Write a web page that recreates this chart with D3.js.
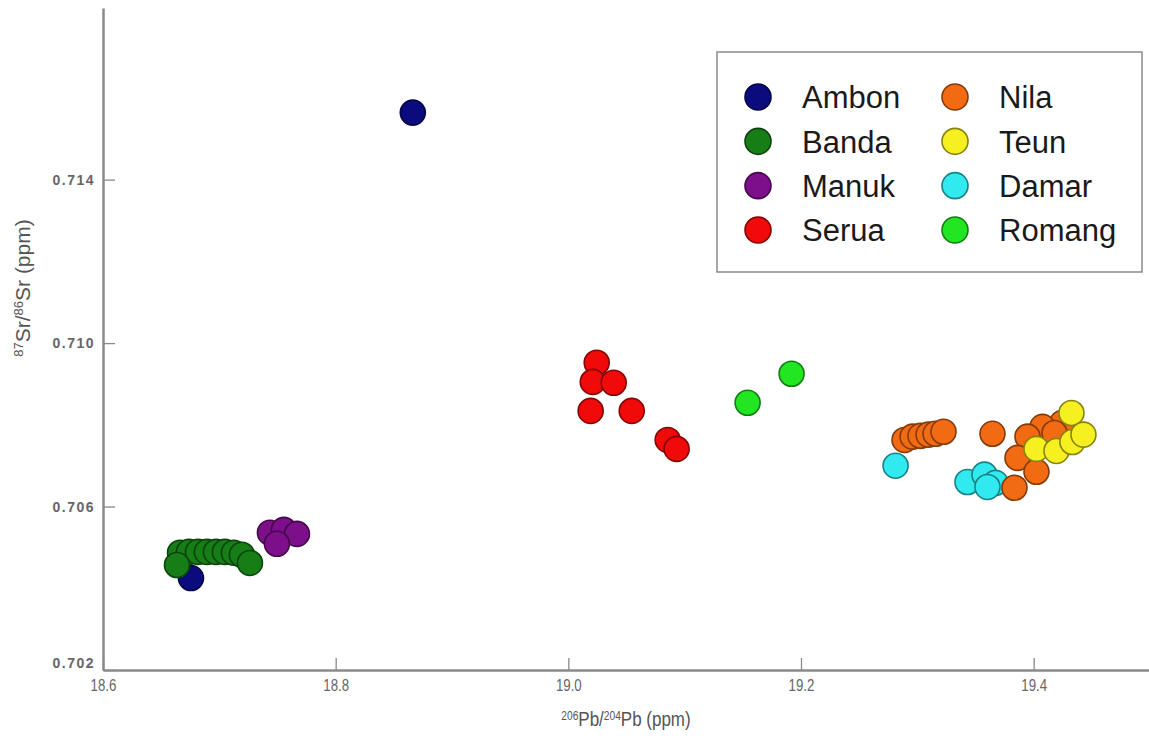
<!DOCTYPE html>
<html>
<head>
<meta charset="utf-8">
<script src="https://cdn.jsdelivr.net/npm/d3@7/dist/d3.min.js"></script>
<style>
  html, body { margin: 0; padding: 0; background: #fff; }
  svg { display: block; font-family: "Liberation Sans", Arial, sans-serif; }
</style>
</head>
<body>
<svg id="chart" width="1149" height="740"></svg>
<script>
/* 87Sr/86Sr vs 206Pb/204Pb scatter, one series per island */

const GROUPS = ["Ambon", "Banda", "Manuk", "Serua", "Nila", "Teun", "Damar", "Romang"];
const GROUP_COLORS = ["#0b0b7d", "#177d17", "#7d0f8a", "#f00a0a", "#f26b12", "#f7f020", "#30eaf0", "#22e622"];

const X_TICKS = [18.6, 18.8, 19.0, 19.2, 19.4];
const Y_TICKS = [0.702, 0.706, 0.710, 0.714];

// [206Pb/204Pb, 87Sr/86Sr]
const ambon = [[18.8663, 0.71564], [18.6756, 0.70425]];
const banda = [
  [18.6662, 0.70487], [18.6739, 0.70489], [18.6816, 0.70489], [18.6893, 0.70489],
  [18.6971, 0.70489], [18.7048, 0.70489], [18.7125, 0.70487], [18.7194, 0.70482],
  [18.7263, 0.70462], [18.6636, 0.70457]
];
const manuk = [[18.7435, 0.70536], [18.7555, 0.70543], [18.7667, 0.70533], [18.7495, 0.70509]];
const serua = [
  [19.0244, 0.70952], [19.0210, 0.70905], [19.0390, 0.70903], [19.0192, 0.70834],
  [19.0545, 0.70834], [19.0854, 0.70763], [19.0931, 0.70741]
];
const nila = [
  [19.2890, 0.70763], [19.2959, 0.70771], [19.3027, 0.70773], [19.3096, 0.70776],
  [19.3156, 0.70778], [19.3225, 0.70783], [19.3646, 0.70778],
  [19.4247, 0.70805], [19.4076, 0.70795], [19.4179, 0.70780], [19.3947, 0.70771],
  [19.3861, 0.70719], [19.4024, 0.70685], [19.3835, 0.70646]
];
const teun = [[19.4325, 0.70829], [19.4024, 0.70741], [19.4196, 0.70736], [19.4333, 0.70758], [19.4428, 0.70776]];
const damar = [[19.2813, 0.70700], [19.3431, 0.70660], [19.3577, 0.70678], [19.3672, 0.70658], [19.3603, 0.70648]];
const romang = [[19.1541, 0.70854], [19.1919, 0.70925]];

const SERIES = [ambon, banda, manuk, serua, damar, nila, teun, romang];
const SERIES_GROUP = ["Ambon", "Banda", "Manuk", "Serua", "Damar", "Nila", "Teun", "Romang"];

const svg = d3.select("#chart");
const AXIS_GRAY = "#8a8a8a";
const TEXT_GRAY = "#666";

const x = d3.scaleLinear().domain([18.6, 19.5]).range([103, 1150]);
const y = d3.scaleLinear().domain([0.702, 0.7182]).range([670, 8]);

const colorOf = (g) => GROUP_COLORS[GROUPS.indexOf(g)];
const strokeOf = (g) => d3.color(colorOf(g)).darker(1.7).formatHex();

// points
const pts = [];
SERIES.forEach((s, i) => s.forEach(([px, py]) => pts.push({ g: SERIES_GROUP[i], px, py })));

svg.append("g")
  .selectAll("circle")
  .data(pts)
  .join("circle")
  .attr("cx", (d) => x(d.px))
  .attr("cy", (d) => y(d.py))
  .attr("r", 12.5)
  .attr("fill", (d) => colorOf(d.g))
  .attr("stroke", (d) => strokeOf(d.g))
  .attr("stroke-width", 1.6);

// axes
const xAxis = svg.append("g")
  .attr("transform", "translate(0,670)")
  .call(d3.axisTop(x).tickValues(X_TICKS).tickSize(12).tickSizeOuter(0).tickFormat(d3.format(".1f")));
xAxis.select(".domain").attr("stroke", AXIS_GRAY).attr("stroke-width", 2.5);
xAxis.selectAll(".tick line").attr("stroke", AXIS_GRAY).attr("stroke-width", 1.3);
xAxis.selectAll(".tick text")
  .attr("y", 0).attr("dy", "0.35em")
  .attr("transform", "translate(0,15) scale(0.78,1)")
  .attr("fill", TEXT_GRAY)
  .style("font-size", "17px");

const yAxis = svg.append("g")
  .attr("transform", "translate(103,0)")
  .call(d3.axisRight(y).tickValues(Y_TICKS).tickSize(12).tickSizeOuter(0).tickFormat(d3.format(".3f")));
yAxis.select(".domain").attr("stroke", AXIS_GRAY).attr("stroke-width", 2.5);
yAxis.selectAll(".tick line").attr("stroke", AXIS_GRAY).attr("stroke-width", 1.3);
yAxis.selectAll(".tick text")
  .attr("x", -8)
  .attr("text-anchor", "end")
  .attr("dy", (d) => (d === 0.702 ? "-0.2em" : "0.35em"))
  .attr("fill", TEXT_GRAY)
  .style("font-size", "14px")
  .style("letter-spacing", "1.5px")
  .style("font-weight", "bold");

// axis titles with superscripts
function supLabel(g, parts, size, supSize) {
  const t = g.append("text").attr("fill", "#555").style("font-size", size + "px");
  parts.forEach(([s, sup]) => {
    t.append("tspan")
      .text(s)
      .style("font-size", sup ? supSize + "px" : null)
      .attr("baseline-shift", sup ? "super" : null);
  });
  return t;
}

supLabel(svg.append("g").attr("transform", "translate(626,726) scale(0.85,1)"),
  [["206", true], ["Pb/", false], ["204", true], ["Pb (ppm)", false]], 20, 12)
  .attr("text-anchor", "middle");

supLabel(svg.append("g").attr("transform", "translate(30,288) rotate(-90)"),
  [["87", true], ["Sr/", false], ["86", true], ["Sr (ppm)", false]], 21, 13)
  .attr("text-anchor", "middle");

// legend
const legend = svg.append("g");
legend.append("rect")
  .attr("x", 717).attr("y", 52).attr("width", 425).attr("height", 220)
  .attr("fill", "#fff").attr("stroke", AXIS_GRAY).attr("stroke-width", 1.5);

const colX = d3.scaleOrdinal().domain([0, 1]).range([758, 955]);
const rowY = d3.scalePoint().domain([0, 1, 2, 3]).range([97, 230]);

const items = legend.selectAll("g.item")
  .data(GROUPS)
  .join("g")
  .attr("class", "item")
  .attr("transform", (d, i) => `translate(${colX(Math.floor(i / 4))},${rowY(i % 4)})`);
items.append("circle")
  .attr("r", 13)
  .attr("fill", (d) => colorOf(d))
  .attr("stroke", (d) => strokeOf(d))
  .attr("stroke-width", 1.6);
items.append("text")
  .attr("x", 44)
  .attr("dy", "0.36em")
  .attr("fill", "#1a1a1a")
  .style("font-size", "31px")
  .text((d) => d);
</script>
</body>
</html>
